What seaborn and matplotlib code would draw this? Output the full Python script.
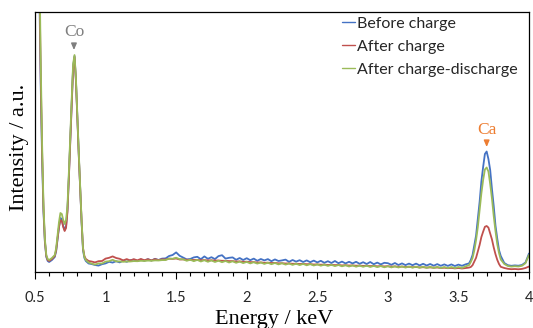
import numpy as np
import pandas as pd
import matplotlib
matplotlib.use("Agg")
import matplotlib.pyplot as plt
import seaborn as sns

# ---------------- data ----------------
energy_low = [0.50, 0.52, 0.53, 0.54, 0.55, 0.56, 0.57, 0.58, 0.59, 0.60,
              0.62, 0.64, 0.65, 0.66, 0.67, 0.68, 0.69, 0.70, 0.71, 0.72,
              0.73, 0.74, 0.75, 0.76, 0.77, 0.78, 0.79, 0.80, 0.81, 0.82,
              0.83, 0.84, 0.85, 0.86, 0.88]
energy_mid = [0.900, 0.925, 0.950, 0.975, 1.000, 1.025, 1.050, 1.075, 1.100, 1.125,
              1.150, 1.175, 1.200, 1.225, 1.250, 1.275, 1.300, 1.325, 1.350, 1.375,
              1.400, 1.425, 1.450, 1.475, 1.500, 1.525, 1.550, 1.575, 1.600, 1.625,
              1.650, 1.675, 1.700, 1.725, 1.750, 1.775, 1.800, 1.825, 1.850, 1.875,
              1.900, 1.925, 1.950, 1.975, 2.000, 2.025, 2.050, 2.075, 2.100, 2.125,
              2.150, 2.175, 2.200, 2.225, 2.250, 2.275, 2.300, 2.325, 2.350, 2.375,
              2.400, 2.425, 2.450, 2.475, 2.500, 2.525, 2.550, 2.575, 2.600, 2.625,
              2.650, 2.675, 2.700, 2.725, 2.750, 2.775, 2.800, 2.825, 2.850, 2.875,
              2.900, 2.925, 2.950, 2.975, 3.000, 3.025, 3.050, 3.075, 3.100, 3.125,
              3.150, 3.175, 3.200, 3.225, 3.250, 3.275, 3.300, 3.325, 3.350, 3.375,
              3.400, 3.425, 3.450, 3.475, 3.500, 3.525, 3.550, 3.575]
energy_ca = [3.5875, 3.6000, 3.6125, 3.6250, 3.6375, 3.6500, 3.6625, 3.6750, 3.6875,
             3.7000, 3.7125, 3.7250, 3.7375, 3.7500, 3.7625, 3.7750, 3.7875, 3.8000]
energy_end = [3.825, 3.850, 3.875, 3.900, 3.925, 3.950, 3.975, 4.000]

before_low = [700, 420, 290, 190, 115, 60, 30, 15, 11, 10,
              12, 15, 21, 33, 45, 54, 53, 46, 42, 46,
              62, 96, 133, 170, 205, 216, 192, 155, 118, 84,
              50, 22, 14, 11, 8.5]
before_mid = [8.0, 7.0, 6.4, 7.8, 8.6, 10.2, 9.4, 10.8, 9.6, 11.4,
              10.2, 11.8, 12.4, 10.8, 12.6, 11.2, 12.9, 11.4, 13.2, 12.0,
              13.4, 13.6, 16.0, 17.0, 19.6, 16.2, 14.4, 12.6, 13.0, 14.6,
              15.2, 12.8, 15.6, 13.2, 14.8, 12.9, 15.9, 16.8, 13.4, 14.2,
              14.6, 12.2, 14.0, 12.0, 13.8, 11.8, 13.4, 11.2, 13.0, 11.6,
              12.9, 10.8, 12.6, 11.0, 11.6, 12.4, 10.2, 12.0, 10.4, 11.8,
              10.0, 11.6, 9.8, 11.4, 9.6, 11.2, 9.2, 10.8, 9.0, 11.0,
              8.8, 10.4, 8.6, 10.2, 8.6, 10.2, 8.2, 9.8, 8.0, 10.0,
              7.8, 9.4, 7.6, 9.2, 8.8, 7.2, 9.0, 7.0, 8.6, 6.9,
              8.4, 6.8, 8.4, 6.6, 8.2, 6.5, 8.0, 6.3, 7.9, 6.2,
              7.6, 6.1, 7.6, 6.0, 7.4, 6.2, 7.6, 8.6]
before_ca = [12.0, 17.0, 26.5, 36.5, 53.5, 70.0, 90.5, 105.0, 118.0,
             120.5, 113.0, 102.0, 83.0, 66.0, 46.5, 33.5, 22.0, 16.0]
before_end = [9.0, 6.8, 6.2, 6.6, 6.3, 7.0, 9.5, 18.5]

after_low = [700, 440, 310, 200, 122, 64, 31, 16, 12, 11,
             13, 16, 22, 34, 45, 52, 51, 45, 41, 44,
             60, 94, 131, 168, 203, 215, 191, 154, 117, 84,
             51, 24, 16, 13, 11]
after_mid = [10.5, 9.6, 10.8, 11.0, 13.4, 14.2, 15.6, 14.0, 13.2, 11.6,
             12.9, 11.5, 12.8, 11.7, 13.0, 11.8, 12.8, 11.6, 12.9, 11.9,
             12.7, 12.5, 13.3, 13.1, 13.5, 12.5, 12.6, 12.2, 12.2, 12.0,
             12.0, 11.8, 11.9, 11.6, 11.7, 11.4, 11.5, 11.2, 11.2, 10.9,
             10.9, 10.5, 10.6, 10.2, 10.3, 9.9, 9.9, 9.5, 9.6, 9.2,
             9.3, 9.0, 9.1, 8.7, 8.8, 8.5, 8.6, 8.2, 8.3, 8.0,
             8.1, 7.8, 7.9, 7.5, 7.6, 7.3, 7.4, 7.0, 7.2, 6.9,
             7.0, 6.6, 6.8, 6.5, 6.6, 6.3, 6.4, 6.1, 6.3, 5.9,
             6.1, 5.7, 5.9, 5.6, 5.8, 5.4, 5.6, 5.2, 5.4, 5.0,
             5.2, 4.8, 5.0, 4.6, 4.8, 4.4, 4.6, 4.3, 4.5, 4.0,
             4.3, 3.8, 4.1, 3.6, 4.0, 3.5, 3.9, 4.4]
after_ca = [5.0, 6.8, 10.4, 14.2, 20.8, 27.0, 34.9, 40.3, 45.2,
            46.0, 44.4, 38.5, 32.6, 24.6, 17.8, 12.2, 8.0, 5.2]
after_end = [4.0, 3.2, 2.8, 3.0, 2.7, 3.1, 4.0, 5.5]

cd_low = [700, 460, 330, 215, 130, 68, 33, 17, 13, 12,
          14, 17, 24, 37, 50, 59, 58, 52, 48, 52,
          66, 100, 137, 173, 208, 217, 194, 157, 120, 86,
          52, 24, 15, 12, 9.5]
cd_mid = [8.5, 7.4, 8.6, 8.5, 10.4, 10.8, 12.2, 10.6, 10.6, 10.2,
          10.5, 10.5, 10.9, 10.8, 11.2, 11.0, 11.4, 11.2, 11.6, 11.5,
          11.9, 11.9, 13.4, 13.2, 14.3, 12.8, 12.7, 11.2, 12.3, 10.8,
          12.1, 10.5, 11.8, 10.2, 11.6, 10.0, 11.3, 9.8, 11.0, 9.5,
          10.7, 9.2, 10.4, 8.9, 10.1, 8.6, 9.8, 8.4, 9.5, 8.1,
          9.3, 7.8, 9.0, 7.6, 8.8, 7.4, 8.5, 7.1, 8.3, 6.9,
          8.1, 6.7, 7.9, 6.5, 7.6, 6.3, 7.4, 6.1, 7.2, 5.9,
          7.0, 5.7, 6.8, 5.5, 6.6, 5.3, 6.4, 5.2, 6.3, 5.0,
          6.1, 4.9, 6.0, 4.7, 5.8, 4.6, 5.7, 4.5, 5.6, 4.4,
          5.5, 4.3, 5.4, 4.2, 5.3, 4.1, 5.2, 4.0, 5.1, 4.0,
          5.0, 3.9, 5.0, 3.9, 5.0, 4.1, 5.6, 6.8]
cd_ca = [10.0, 14.0, 21.5, 32.0, 45.0, 62.0, 78.5, 92.0, 102.5,
         104.5, 100.5, 88.0, 73.5, 56.0, 41.0, 28.0, 19.0, 12.5]
cd_end = [8.0, 6.0, 5.4, 5.8, 5.5, 6.2, 8.8, 17.0]

series_names = ["Before charge", "After charge", "After charge-discharge"]
series_colors = ["#4472C4", "#C0504D", "#9BBB59"]
x_ticks = [0.5, 1.0, 1.5, 2.0, 2.5, 3.0, 3.5, 4.0]
x_tick_labels = ["0.5", "1", "1.5", "2", "2.5", "3", "3.5", "4"]

energy = energy_low + energy_mid + energy_ca + energy_end
values = {
    "Before charge": before_low + before_mid + before_ca + before_end,
    "After charge": after_low + after_mid + after_ca + after_end,
    "After charge-discharge": cd_low + cd_mid + cd_ca + cd_end,
}
frames = []
for name in series_names:
    frames.append(pd.DataFrame({"Energy": energy, "Intensity": values[name], "Sample": name}))
df = pd.concat(frames, ignore_index=True)

# ---------------- plot ----------------
sns.set_theme(style="white")
plt.rcParams["font.family"] = ["Lato", "DejaVu Sans"]

fig = plt.figure(figsize=(5.33, 3.28), dpi=100)
W, H = 533, 328
ax = fig.add_axes([35 / W, (H - 272) / H, 494 / W, 260 / H])

sns.lineplot(data=df, x="Energy", y="Intensity", hue="Sample",
             hue_order=series_names, palette=series_colors,
             estimator=None, sort=False, linewidth=1.3, ax=ax)

ax.set_xlim(0.5, 4.0)
ax.set_ylim(0, 260)
ax.set_xticks(x_ticks)
ax.set_xticklabels(x_tick_labels, fontsize=10.5)
ax.set_xticks(np.round(np.arange(0.5, 4.001, 0.1), 2), minor=True)
ax.set_yticks([])
ax.tick_params(axis="x", which="major", direction="out", length=4.8, width=0.8,
               color="black", pad=9.0, bottom=True)
ax.tick_params(axis="x", which="minor", direction="out", length=3.0, width=0.8,
               color="black", bottom=True)
for s in ax.spines.values():
    s.set_color("black")
    s.set_linewidth(0.9)

serif = ["Liberation Serif", "DejaVu Serif"]
ax.set_xlabel("Energy / keV", fontsize=16, family=serif, color="black")
ax.set_ylabel("Intensity / a.u.", fontsize=16, family=serif, color="black")
ax.xaxis.set_label_coords(0.485, -0.148)
ax.yaxis.set_label_coords(-0.013, 0.48)

# peak annotations
ax.annotate("Co", xy=(0.776, 222), xytext=(0.776, 240), ha="center", va="center",
            fontsize=12.5, family=serif, color="#7F7F7F",
            arrowprops=dict(arrowstyle="-|>,head_length=0.3,head_width=0.13",
                            color="#7F7F7F", lw=1.0, shrinkA=1, shrinkB=0))
ax.annotate("Ca", xy=(3.70, 125), xytext=(3.70, 142), ha="center", va="center",
            fontsize=12.5, family=serif, color="#ED7D31",
            arrowprops=dict(arrowstyle="-|>,head_length=0.3,head_width=0.13",
                            color="#ED7D31", lw=1.0, shrinkA=1, shrinkB=0))

leg = ax.legend(loc="upper left", bbox_to_anchor=((337 - 35) / 494, 1.0),
                frameon=False, fontsize=11.5, handlelength=0.8, handletextpad=0.15,
                labelspacing=0.55, borderaxespad=0.0, borderpad=0.3)
for line in leg.get_lines():
    line.set_linewidth(1.0)

fig.savefig("out.png", dpi=100)
